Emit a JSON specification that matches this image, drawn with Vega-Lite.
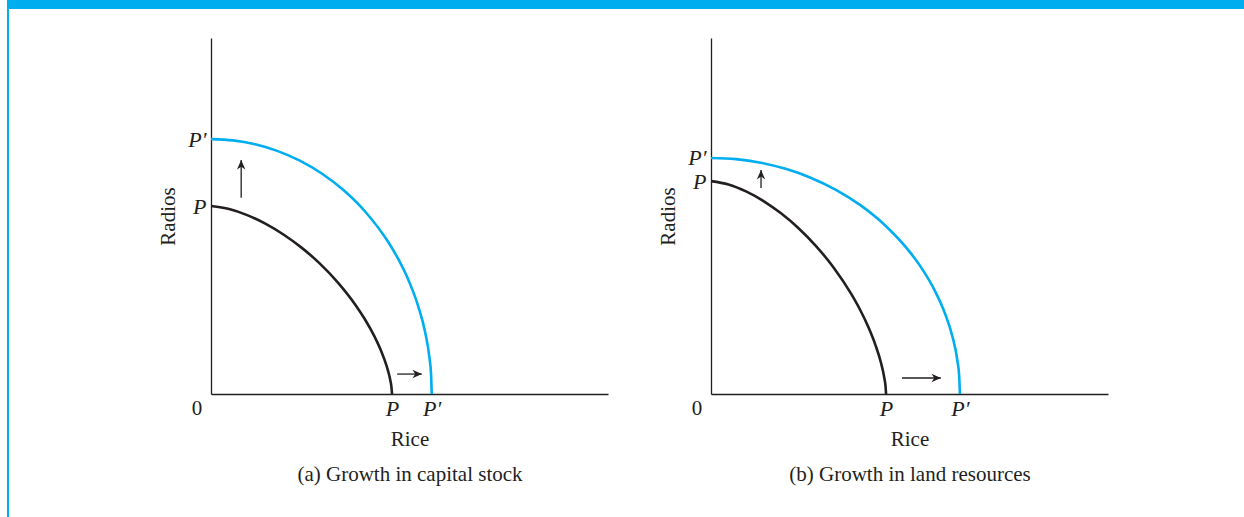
{
  "$schema": "https://vega.github.io/schema/vega-lite/v6.json",
  "padding": 0,
  "background": "white",
  "config": {
    "view": {"stroke": null},
    "font": "Liberation Serif",
    "concat": {"spacing": 0},
    "axis": {
      "grid": false,
      "ticks": false,
      "domainColor": "#231f20",
      "domainWidth": 1.3,
      "labelFont": "Liberation Serif",
      "labelFontStyle": "italic",
      "labelFontSize": 22,
      "labelColor": "#231f20",
      "labelOverlap": false,
      "titleFont": "Liberation Serif",
      "titleFontWeight": "normal",
      "titleFontSize": 21,
      "titleColor": "#231f20"
    }
  },
  "datasets": {
    "one": [{"k": 1}],
    "curvesA": [
      {"rice": 0, "radios": 52.8, "curve": "P"}, {"rice": 4.56, "radios": 51.97, "curve": "P"}, {"rice": 9.12, "radios": 50.25, "curve": "P"}, {"rice": 13.68, "radios": 47.85, "curve": "P"}, {"rice": 18.24, "radios": 44.81, "curve": "P"}, {"rice": 22.8, "radios": 41.12, "curve": "P"}, {"rice": 27.36, "radios": 36.69, "curve": "P"}, {"rice": 31.92, "radios": 31.38, "curve": "P"}, {"rice": 36.48, "radios": 24.89, "curve": "P"}, {"rice": 38.76, "radios": 21.01, "curve": "P"}, {"rice": 41.04, "radios": 16.47, "curve": "P"}, {"rice": 42.86, "radios": 12.07, "curve": "P"}, {"rice": 44.23, "radios": 7.87, "curve": "P"}, {"rice": 45.14, "radios": 3.98, "curve": "P"}, {"rice": 45.46, "radios": 1.87, "curve": "P"}, {"rice": 45.6, "radios": 0, "curve": "P"},
      {"rice": 0, "radios": 71.6, "curve": "P′"}, {"rice": 5.56, "radios": 71.24, "curve": "P′"}, {"rice": 11.12, "radios": 70.15, "curve": "P′"}, {"rice": 16.68, "radios": 68.3, "curve": "P′"}, {"rice": 22.24, "radios": 65.62, "curve": "P′"}, {"rice": 27.8, "radios": 62.01, "curve": "P′"}, {"rice": 33.36, "radios": 57.28, "curve": "P′"}, {"rice": 38.92, "radios": 51.13, "curve": "P′"}, {"rice": 44.48, "radios": 42.96, "curve": "P′"}, {"rice": 47.26, "radios": 37.72, "curve": "P′"}, {"rice": 50.04, "radios": 31.21, "curve": "P′"}, {"rice": 52.26, "radios": 24.43, "curve": "P′"}, {"rice": 53.93, "radios": 17.41, "curve": "P′"}, {"rice": 55.04, "radios": 10.1, "curve": "P′"}, {"rice": 55.43, "radios": 5.54, "curve": "P′"}, {"rice": 55.6, "radios": 0, "curve": "P′"}
    ],
    "curvesB": [
      {"rice": 0, "radios": 59.8, "curve": "P"}, {"rice": 4.41, "radios": 58.86, "curve": "P"}, {"rice": 8.82, "radios": 56.91, "curve": "P"}, {"rice": 13.23, "radios": 54.2, "curve": "P"}, {"rice": 17.64, "radios": 50.75, "curve": "P"}, {"rice": 22.05, "radios": 46.57, "curve": "P"}, {"rice": 26.46, "radios": 41.55, "curve": "P"}, {"rice": 30.87, "radios": 35.55, "curve": "P"}, {"rice": 35.28, "radios": 28.19, "curve": "P"}, {"rice": 37.49, "radios": 23.8, "curve": "P"}, {"rice": 39.69, "radios": 18.66, "curve": "P"}, {"rice": 41.45, "radios": 13.67, "curve": "P"}, {"rice": 42.78, "radios": 8.92, "curve": "P"}, {"rice": 43.66, "radios": 4.5, "curve": "P"}, {"rice": 43.97, "radios": 2.12, "curve": "P"}, {"rice": 44.1, "radios": 0, "curve": "P"},
      {"rice": 0, "radios": 66.3, "curve": "P′"}, {"rice": 6.27, "radios": 65.97, "curve": "P′"}, {"rice": 12.54, "radios": 64.96, "curve": "P′"}, {"rice": 18.81, "radios": 63.24, "curve": "P′"}, {"rice": 25.08, "radios": 60.76, "curve": "P′"}, {"rice": 31.35, "radios": 57.42, "curve": "P′"}, {"rice": 37.62, "radios": 53.04, "curve": "P′"}, {"rice": 43.89, "radios": 47.34, "curve": "P′"}, {"rice": 50.16, "radios": 39.78, "curve": "P′"}, {"rice": 53.3, "radios": 34.93, "curve": "P′"}, {"rice": 56.43, "radios": 28.9, "curve": "P′"}, {"rice": 58.94, "radios": 22.62, "curve": "P′"}, {"rice": 60.82, "radios": 16.12, "curve": "P′"}, {"rice": 62.07, "radios": 9.35, "curve": "P′"}, {"rice": 62.51, "radios": 5.13, "curve": "P′"}, {"rice": 62.7, "radios": 0, "curve": "P′"}
    ],
    "arrowsA": [
      {"x": 7.6, "y": 55.1, "x2": 7.6, "y2": 65.7, "angle": 0},
      {"x": 46.9, "y": 5.6, "x2": 53.1, "y2": 5.6, "angle": 90}
    ],
    "arrowsB": [
      {"x": 12.6, "y": 57.9, "x2": 12.6, "y2": 62.9, "angle": 0},
      {"x": 48.1, "y": 4.5, "x2": 57.9, "y2": 4.5, "angle": 90}
    ],
    "origin": [{"x": 0, "y": 0, "label": "0"}]
  },
  "vconcat": [
    {
      "hconcat": [
        {"width": 7, "height": 9, "data": {"name": "one"}, "mark": {"type": "rect", "opacity": 0}},
        {"width": 1237, "height": 9, "data": {"name": "one"}, "mark": {"type": "rect", "color": "#00aeef"}}
      ]
    },
    {
      "hconcat": [
        {"width": 7, "height": 508, "data": {"name": "one"}, "mark": {"type": "rect", "opacity": 0}},
        {"width": 2, "height": 508, "data": {"name": "one"}, "mark": {"type": "rect", "color": "#00aeef"}},
        {"width": 148, "height": 10, "data": {"name": "one"}, "mark": {"type": "rect", "opacity": 0}},
        {
          "vconcat": [
            {"width": 1, "height": 29, "data": {"name": "one"}, "mark": {"type": "rect", "opacity": 0}},
            {
              "hconcat": [
                {
                  "width": 397,
                  "height": 356,
                  "layer": [
                    {
                      "data": {"name": "curvesA"},
                      "mark": {"type": "line", "interpolate": "monotone", "strokeWidth": 2.6},
                      "encoding": {
                        "x": {"field": "rice", "type": "quantitative", "scale": {"domain": [0, 100], "nice": false},
                          "axis": {"values": [45.6, 55.6], "labelExpr": "datum.value < 50 ? 'P' : 'P′'", "labelPadding": 4, "title": ["Rice", "(a) Growth in capital stock"], "titleLineHeight": 35, "titlePadding": 9}},
                        "y": {"field": "radios", "type": "quantitative", "scale": {"domain": [0, 100], "nice": false},
                          "axis": {"values": [52.8, 71.6], "labelExpr": "datum.value < 60 ? 'P' : 'P′'", "labelPadding": 5, "title": "Radios", "titlePadding": 9}},
                        "color": {"field": "curve", "type": "nominal", "scale": {"domain": ["P", "P′"], "range": ["#231f20", "#00aeef"]}, "legend": null}
                      }
                    },
                    {
                      "data": {"name": "arrowsA"},
                      "mark": {"type": "rule", "color": "#231f20", "strokeWidth": 1.3},
                      "encoding": {"x": {"field": "x", "type": "quantitative"}, "y": {"field": "y", "type": "quantitative"}, "x2": {"field": "x2"}, "y2": {"field": "y2"}}
                    },
                    {
                      "data": {"name": "arrowsA"},
                      "mark": {"type": "point", "shape": "M0,0L-0.45,1L0,0.7L0.45,1Z", "filled": true, "color": "#231f20", "opacity": 1, "size": 350, "strokeWidth": 0},
                      "encoding": {"x": {"field": "x2", "type": "quantitative"}, "y": {"field": "y2", "type": "quantitative"}, "angle": {"field": "angle", "type": "quantitative", "scale": null}}
                    },
                    {
                      "data": {"name": "origin"},
                      "mark": {"type": "text", "dx": -14, "dy": 15, "fontSize": 21, "color": "#231f20", "font": "Liberation Serif"},
                      "encoding": {"x": {"field": "x", "type": "quantitative"}, "y": {"field": "y", "type": "quantitative"}, "text": {"field": "label"}}
                    }
                  ]
                },
                {"width": 49, "height": 10, "data": {"name": "one"}, "mark": {"type": "rect", "opacity": 0}},
                {
                  "width": 397,
                  "height": 356,
                  "layer": [
                    {
                      "data": {"name": "curvesB"},
                      "mark": {"type": "line", "interpolate": "monotone", "strokeWidth": 2.6},
                      "encoding": {
                        "x": {"field": "rice", "type": "quantitative", "scale": {"domain": [0, 100], "nice": false},
                          "axis": {"values": [44.1, 62.7], "labelExpr": "datum.value < 50 ? 'P' : 'P′'", "labelPadding": 4, "title": ["Rice", "(b) Growth in land resources"], "titleLineHeight": 35, "titlePadding": 9}},
                        "y": {"field": "radios", "type": "quantitative", "scale": {"domain": [0, 100], "nice": false},
                          "axis": {"values": [59.8, 66.3], "labelExpr": "datum.value < 63 ? 'P' : 'P′'", "labelPadding": 5, "title": "Radios", "titlePadding": 9}},
                        "color": {"field": "curve", "type": "nominal", "scale": {"domain": ["P", "P′"], "range": ["#231f20", "#00aeef"]}, "legend": null}
                      }
                    },
                    {
                      "data": {"name": "arrowsB"},
                      "mark": {"type": "rule", "color": "#231f20", "strokeWidth": 1.3},
                      "encoding": {"x": {"field": "x", "type": "quantitative"}, "y": {"field": "y", "type": "quantitative"}, "x2": {"field": "x2"}, "y2": {"field": "y2"}}
                    },
                    {
                      "data": {"name": "arrowsB"},
                      "mark": {"type": "point", "shape": "M0,0L-0.45,1L0,0.7L0.45,1Z", "filled": true, "color": "#231f20", "opacity": 1, "size": 350, "strokeWidth": 0},
                      "encoding": {"x": {"field": "x2", "type": "quantitative"}, "y": {"field": "y2", "type": "quantitative"}, "angle": {"field": "angle", "type": "quantitative", "scale": null}}
                    },
                    {
                      "data": {"name": "origin"},
                      "mark": {"type": "text", "dx": -14, "dy": 15, "fontSize": 21, "color": "#231f20", "font": "Liberation Serif"},
                      "encoding": {"x": {"field": "x", "type": "quantitative"}, "y": {"field": "y", "type": "quantitative"}, "text": {"field": "label"}}
                    }
                  ]
                }
              ]
            }
          ]
        }
      ]
    }
  ]
}
